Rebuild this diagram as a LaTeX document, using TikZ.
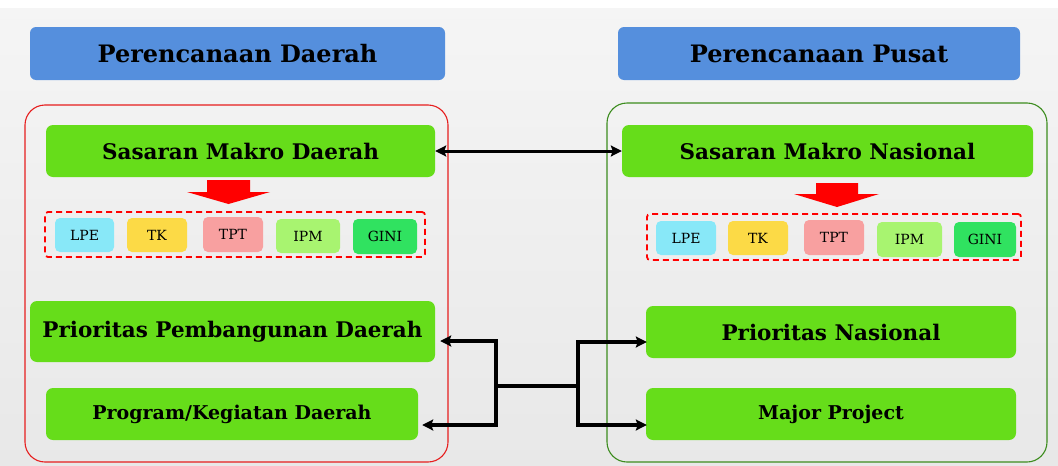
\documentclass[tikz,border=0pt]{standalone}
\usepackage{fontspec}
\setmainfont{DejaVu Serif}
\usetikzlibrary{arrows.meta,calc}
\definecolor{hdblue}{RGB}{85,143,221}
\definecolor{boxgreen}{RGB}{102,221,26}
\definecolor{cLPE}{RGB}{136,232,248}
\definecolor{cTK}{RGB}{252,218,70}
\definecolor{cTPT}{RGB}{248,160,160}
\definecolor{cIPM}{RGB}{168,244,112}
\definecolor{cGINI}{RGB}{48,226,96}
\definecolor{frRed}{RGB}{230,30,30}
\definecolor{frGreen}{RGB}{60,140,30}
\definecolor{arRed}{RGB}{255,0,0}
\begin{document}
\begin{tikzpicture}[x=1pt,y=-1pt,
  header/.style={fill=hdblue,rounded corners=6pt,inner sep=0pt,font=\bfseries\fontsize{24}{28}\selectfont},
  gbox/.style={fill=boxgreen,rounded corners=7pt,inner sep=0pt,font=\bfseries\fontsize{21.5}{25}\selectfont},
  gsmall/.style={gbox,font=\bfseries\fontsize{19}{22}\selectfont},
  frame/.style={line width=1.1pt,rounded corners=20pt,inner sep=0pt},
  dbox/.style={draw=arRed,line width=1.8pt,dash pattern=on 6pt off 4pt,rounded corners=3pt,inner sep=0pt},
  tag/.style={rounded corners=5pt,inner sep=0pt,font=\fontsize{14}{16}\selectfont},
  arr/.style={line width=3.2pt,-{Stealth[length=11pt,width=11pt,inset=2pt]}},
  darr/.style={line width=3pt,{Stealth[length=11pt,width=11pt,inset=2pt]}-{Stealth[length=11pt,width=11pt,inset=2pt]}},
  redarrow/.style={fill=arRed}
]
\useasboundingbox (0,0) rectangle (1058,466);
% background
\fill[white] (0,0) rectangle (1058,466);
\shade[top color=white!96!black,bottom color=white!91!black] (0,8) rectangle (1058,466);

% headers
\node[header,minimum width=415pt,minimum height=53pt] (hd1) at (237.5,53.5) {Perencanaan Daerah};
\node[header,minimum width=402pt,minimum height=53pt] (hd2) at (819,53.5) {Perencanaan Pusat};

% frames
\node[frame,draw=frRed,minimum width=423pt,minimum height=357pt] (frL) at (236.5,283.5) {};
\node[frame,draw=frGreen,minimum width=440pt,minimum height=359pt] (frR) at (827,282.5) {};

% green boxes
\node[gbox,minimum width=389pt,minimum height=52pt] (smd) at (240.5,151) {Sasaran Makro Daerah};
\node[gbox,minimum width=411pt,minimum height=52pt] (smn) at (827.5,151) {Sasaran Makro Nasional};
\node[gbox,minimum width=405pt,minimum height=61pt] (ppd) at (232.5,331.5) {Prioritas Pembangunan Daerah};
\node[gsmall,minimum width=372pt,minimum height=52pt] (pkd) at (232,414) {Program/Kegiatan Daerah};
\node[gbox,minimum width=370pt,minimum height=52pt] (pn) at (831,332) {Prioritas Nasional};
\node[gsmall,minimum width=370pt,minimum height=52pt] (mp) at (831,414) {Major Project};

% red down arrows
\fill[redarrow] (207,180) -- (250,180) -- (250,192) -- (270,192) -- (228.5,204) -- (187,192) -- (207,192) -- cycle;
\fill[redarrow] (816,183) -- (858,183) -- (858,194) -- (879,194) -- (837,207) -- (794,194) -- (816,194) -- cycle;

% dashed groups
\node[dbox,minimum width=380pt,minimum height=45pt] (dL) at (235,234.5) {};
\node[dbox,minimum width=374pt,minimum height=46pt] (dR) at (834,237) {};

% tags left
\node[tag,fill=cLPE,minimum width=59pt,minimum height=34pt] (l1) at (84.5,235) {LPE};
\node[tag,fill=cTK,minimum width=60pt,minimum height=34pt] (l2) at (157,235) {TK};
\node[tag,fill=cTPT,minimum width=60pt,minimum height=35pt] (l3) at (233,234.5) {TPT};
\node[tag,fill=cIPM,minimum width=64pt,minimum height=34pt] (l4) at (308,236) {IPM};
\node[tag,fill=cGINI,minimum width=64pt,minimum height=35pt] (l5) at (385,236.5) {GINI};
% tags right
\node[tag,fill=cLPE,minimum width=60pt,minimum height=34pt] (r1) at (686,238) {LPE};
\node[tag,fill=cTK,minimum width=60pt,minimum height=34pt] (r2) at (758,238) {TK};
\node[tag,fill=cTPT,minimum width=60pt,minimum height=35pt] (r3) at (834,237.5) {TPT};
\node[tag,fill=cIPM,minimum width=65pt,minimum height=35pt] (r4) at (909.5,239.5) {IPM};
\node[tag,fill=cGINI,minimum width=62pt,minimum height=35pt] (r5) at (985,239.5) {GINI};

% connectors
\draw[darr] (smd.east) -- (smn.west);
\coordinate (jL) at (496,386);
\coordinate (jR) at (578,386);
\draw[line width=3.2pt] (jL) -- (jR);
\draw[arr] (jL) |- ($(ppd.east)+(5,9.5)$);
\draw[arr] (jL) |- ($(pkd.east)+(4,11)$);
\draw[arr] (jR) |- ($(pn.west)+(1,10)$);
\draw[arr] (jR) |- ($(mp.west)+(1,11)$);
\end{tikzpicture}
\end{document}
